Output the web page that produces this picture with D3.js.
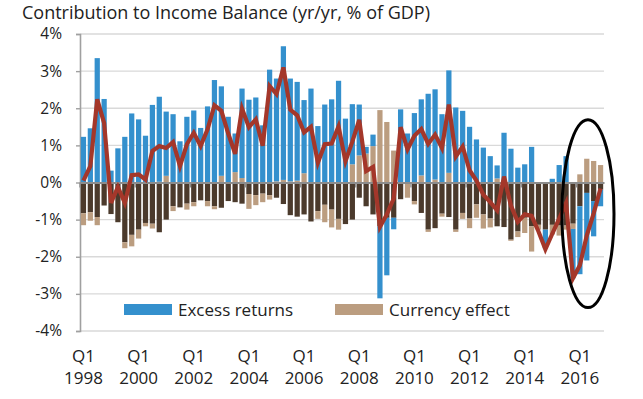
<!DOCTYPE html>
<html><head><meta charset="utf-8">
<script src="https://cdn.jsdelivr.net/npm/d3@7/dist/d3.min.js"></script>
<style>
body{margin:0;background:#fff;}
svg{display:block;font-family:"Open Sans","Noto Sans",sans-serif;}
</style></head>
<body><svg id="c" width="643" height="399"></svg>
<script>
// ---- data ----
const years = d3.range(1998, 2017);
const quarters = ["Q1","Q2","Q3","Q4"];
const categories = years.flatMap(y => quarters.map(q => q + " " + y));

const excessReturns = [
 1.23,1.46,3.35,2.25, 0.32,0.92,1.23,1.86, 1.70,1.26,2.09,2.29, 1.73,1.84,1.11,1.77,
 1.94,1.47,2.05,2.76, 2.41,1.77,1.04,2.41, 2.23,2.29,1.54,3.04, 2.77,3.60,2.77,2.66,
 1.97,2.53,1.52,2.10, 2.24,2.74,1.72,1.62, 1.37,0.18,0.31,-1.94, -1.55,-0.31,1.97,1.32,
 1.87,2.05,2.39,2.43, 1.84,2.76,2.02,1.93, 1.50,1.16,0.94,0.71, 0.35,1.34,0.91,0.40,
 0.49,0.96,0.00,-0.50, 0.10,0.47,0.71,-1.33, -1.83,-1.82,-0.95,-0.45];

const currencyEffect = [
 -0.32,-0.23,-0.22,0.00, 0.00,0.00,-0.16,-0.31, -0.24,-0.09,-0.13,0.02, 0.18,-0.13,0.00,-0.16,
 -0.11,0.00,-0.14,-0.08, 0.18,0.00,0.28,0.12, -0.40,-0.27,-0.23,-0.12, 0.03,0.07,0.03,0.05,
 0.25,0.00,-0.21,-0.47, -0.48,-0.29,0.00,0.49, 0.73,0.78,0.98,1.95, 1.63,0.86,0.00,-0.37,
 -0.09,0.19,-0.06,0.08, -0.08,0.26,-0.06,-0.16, -0.26,-0.36,-0.38,-0.24, 0.11,0.00,-0.03,-0.15,
 -0.41,-0.68,-0.13,0.00, -0.26,-0.27,-0.11,-0.14, 0.22,0.64,0.58,0.47];

const otherEffect = [
 -0.83,-0.80,-0.93,-0.62, -0.85,-1.07,-1.61,-1.41, -1.27,-1.09,-1.11,-1.34, -1.00,-0.64,-0.67,-0.57,
 -0.53,-0.48,-0.50,-0.64, -0.68,-0.50,-0.53,-0.57, -0.31,-0.34,-0.30,-0.34, -0.41,-0.58,-0.88,-0.92,
 -0.86,-1.05,-0.77,-0.60, -0.73,-0.98,-1.12,-1.00, -0.41,-0.64,-0.86,-1.18, -0.95,-0.95,-0.45,-0.04,
 -0.50,-0.82,-1.27,-1.23, -0.84,-0.93,-1.27,-0.82, -0.97,-0.59,-0.86,-0.97, -1.18,-1.20,-1.54,-1.32,
 -0.95,-1.18,-1.14,-1.27, -1.14,-1.16,-1.16,-1.11, -0.64,-0.28,-0.50,-0.19];

const totalContribution = [
 0.05,0.44,2.24,1.60, -0.55,-0.12,-0.55,0.20, 0.22,0.08,0.85,0.98, 0.93,1.09,0.44,1.03,
 1.34,0.98,1.43,2.08, 1.93,1.32,0.77,1.99, 1.49,1.70,0.99,2.60, 2.38,3.10,1.96,1.81,
 1.35,1.50,0.53,1.03, 1.05,1.51,0.57,1.10, 1.69,0.31,0.42,-1.20, -0.86,-0.43,1.49,0.89,
 1.26,1.44,1.04,1.29, 0.93,2.10,0.70,0.97, 0.33,0.05,-0.33,-0.53, -0.75,0.16,-0.62,-1.06,
 -0.86,-0.90,-1.32,-1.80, -1.38,-0.97,-0.55,-2.58, -2.23,-1.43,-0.83,-0.16];

const yTicks = [-4,-3,-2,-1,0,1,2,3,4];
const xTickLabels = categories.filter((c,i) => i % 8 === 0);
const legendItems = [{key:"excess", label:"Excess returns"},{key:"currency", label:"Currency effect"}];
const titleText = "Contribution to Income Balance (yr/yr, % of GDP)";
// highlighted period (quarter index span, value span)
const highlightIdx = [69.9, 77.45];
const highlightVal = [1.69, -3.37];

// ---- chart ----
const W = 643, H = 399;
const m = {l:80, r:39, t:34, b:68};
const colors = {other:"#4b3a2c", currency:"#bb9d80", excess:"#3490cd", line:"#a4372a"};
const svg = d3.select("#c");

const x = d3.scaleBand().domain(categories).range([m.l, W - m.r]).paddingInner(0.24).paddingOuter(0.12);
const xi = d3.scaleLinear().domain([0, categories.length]).range([m.l, W - m.r]);
const y = d3.scaleLinear().domain([-4, 4]).range([H - m.b, m.t]);

const rows = categories.map((c,i) => ({cat:c, other:otherEffect[i], currency:currencyEffect[i], excess:excessReturns[i]}));
const stack = d3.stack().keys(["other","currency","excess"]).offset(d3.stackOffsetDiverging);
const series = stack(rows);

// gridlines
svg.append("g").selectAll("line").data(yTicks.filter(t => t !== 0)).join("line")
  .attr("x1", m.l).attr("x2", W - m.r)
  .attr("y1", d => y(d)).attr("y2", d => y(d))
  .attr("stroke", "#d9d9d9").attr("stroke-width", 1.4);

// y axis
const yAxis = d3.axisLeft(y).tickValues(yTicks).tickSize(4).tickPadding(14).tickFormat(d => d + "%");
const ya = svg.append("g").attr("transform", `translate(${m.l},0)`).call(yAxis);
ya.select(".domain").attr("stroke", "#a0a0a0").attr("stroke-width", 1.6);
ya.selectAll(".tick line").attr("stroke", "#a0a0a0").attr("stroke-width", 1.4);
ya.selectAll(".tick text").attr("font-size", 15.5).attr("fill", "#222").attr("font-family", "Open Sans, sans-serif");

// bars
svg.append("g").selectAll("g").data(series).join("g")
  .attr("fill", d => colors[d.key])
  .selectAll("rect").data(d => d).join("rect")
  .attr("x", d => x(d.data.cat))
  .attr("width", x.bandwidth())
  .attr("y", d => y(Math.max(d[0], d[1])))
  .attr("height", d => Math.abs(y(d[0]) - y(d[1])));

// zero axis line with ticks
const xAxis = d3.axisBottom(x).tickValues(xTickLabels).tickSize(0).tickFormat("");
const xa = svg.append("g").attr("transform", `translate(0,${y(0)})`).call(xAxis);
xa.select(".domain").attr("stroke", "#8c8c8c").attr("stroke-width", 2);
svg.append("g").selectAll("line").data(xTickLabels).join("line")
  .attr("x1", d => x(d) - x.step()*x.paddingInner()/2).attr("x2", d => x(d) - x.step()*x.paddingInner()/2)
  .attr("y1", y(0)).attr("y2", y(0) + 5)
  .attr("stroke", "#8c8c8c").attr("stroke-width", 1.4);

// line
const line = d3.line().x((d,i) => x(categories[i]) + x.bandwidth()/2).y(d => y(d));
svg.append("path").datum(totalContribution)
  .attr("d", line).attr("fill", "none")
  .attr("stroke", colors.line).attr("stroke-width", 4.2).attr("stroke-linejoin", "miter");

// x labels
const xl = svg.append("g").selectAll("text").data(xTickLabels).join("text")
  .attr("text-anchor", "middle").attr("font-size", 17).attr("fill", "#222");
xl.append("tspan").attr("x", d => x(d) + x.bandwidth()/2).attr("y", 362).text(d => d.split(" ")[0]);
xl.append("tspan").attr("x", d => x(d) + x.bandwidth()/2).attr("y", 384).text(d => d.split(" ")[1]);

// title
svg.append("text").attr("x", 22).attr("y", 19).attr("font-size", 18).attr("fill", "#222").text(titleText);

// legend
const legX = [124, 335];
const lg = svg.append("g").selectAll("g").data(legendItems).join("g")
  .attr("transform", (d,i) => `translate(${legX[i]},304)`);
lg.append("rect").attr("width", 48).attr("height", 11).attr("fill", d => colors[d.key]);
lg.append("text").attr("x", 54).attr("y", 12).attr("font-size", 17).attr("fill", "#222").text(d => d.label);

// highlight ellipse
const ex0 = xi(highlightIdx[0]), ex1 = xi(highlightIdx[1]);
const ey0 = y(highlightVal[0]), ey1 = y(highlightVal[1]);
svg.append("ellipse")
  .attr("cx", (ex0 + ex1)/2).attr("cy", (ey0 + ey1)/2)
  .attr("rx", (ex1 - ex0)/2).attr("ry", (ey1 - ey0)/2)
  .attr("fill", "none").attr("stroke", "#000").attr("stroke-width", 3);
</script></body></html>
